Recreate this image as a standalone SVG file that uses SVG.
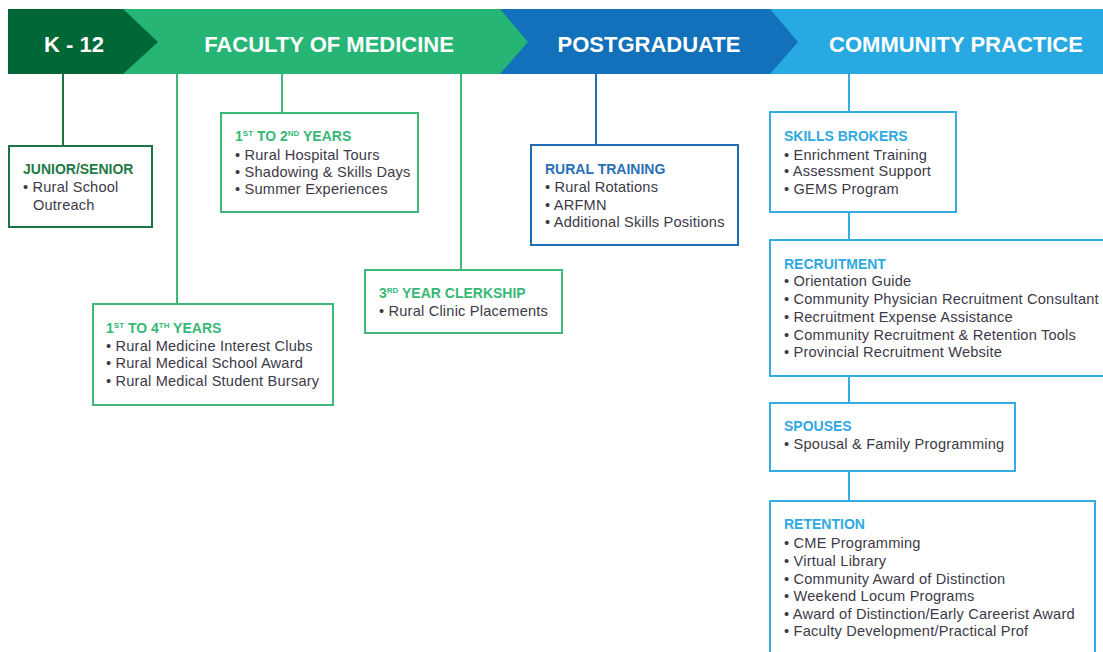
<svg xmlns="http://www.w3.org/2000/svg" width="1103" height="652" viewBox="0 0 1103 652">
<style>
text{font-family:"Liberation Sans",Arial,sans-serif}
.ban{font-size:22px;font-weight:bold;fill:#ffffff;text-anchor:middle}
.t{font-size:14px;font-weight:bold}
.i{font-size:14.6px;letter-spacing:0.2px;fill:#3d3a48}
.sup{font-size:8px}
.box{fill:#ffffff;stroke-width:2}
.dg{stroke:#1b7443}.dgt{fill:#1f7a45}
.g{stroke:#3dba7a}.gt{fill:#37b877}
.b{stroke:#1f6db3}.bt{fill:#2a6fb6}
.lb{stroke:#36ade2}.lbt{fill:#2fa9e1}
.c{fill:none;stroke-width:2}
</style>
<rect width="1103" height="652" fill="#ffffff"/>
<g id="banner">
<rect x="760" y="9" width="343" height="65" fill="#29a9e1"/>
<polygon points="490,9 770,9 798,42 770,74 490,74" fill="#1271ba"/>
<polygon points="115,9 500,9 528,42 500,74 115,74" fill="#26b574"/>
<polygon points="8,9 123,9 158,42 123,74 8,74" fill="#006837"/>
<text class="ban" x="74" y="52">K - 12</text>
<text class="ban" x="329" y="52">FACULTY OF MEDICINE</text>
<text class="ban" x="649" y="52">POSTGRADUATE</text>
<text class="ban" x="956" y="52">COMMUNITY PRACTICE</text>
</g>
<g id="connectors">
<line class="c dg" x1="63" y1="74" x2="63" y2="146"/>
<line class="c g" x1="177" y1="74" x2="177" y2="304"/>
<line class="c g" x1="282" y1="74" x2="282" y2="113"/>
<line class="c g" x1="461" y1="74" x2="461" y2="270"/>
<line class="c b" x1="596" y1="74" x2="596" y2="145"/>
<line class="c lb" x1="849" y1="74" x2="849" y2="112"/>
<line class="c lb" x1="849" y1="212" x2="849" y2="240"/>
<line class="c lb" x1="849" y1="376" x2="849" y2="403"/>
<line class="c lb" x1="849" y1="471" x2="849" y2="501"/>
</g>
<g id="junior-senior">
<rect class="box dg" x="9" y="146" width="143" height="81"/>
<text class="t dgt" x="23" y="174">JUNIOR/SENIOR</text>
<text class="i" x="23" y="192">• Rural School</text>
<text class="i" x="33" y="210">Outreach</text>
</g>
<g id="years-1-2">
<rect class="box g" x="221" y="113" width="197" height="99"/>
<text class="t gt" x="235" y="141">1<tspan class="sup" dy="-5">ST</tspan><tspan dy="5"> TO 2</tspan><tspan class="sup" dy="-5">ND</tspan><tspan dy="5"> YEARS</tspan></text>
<text class="i" x="235" y="160">• Rural Hospital Tours</text>
<text class="i" x="235" y="177">• Shadowing &amp; Skills Days</text>
<text class="i" x="235" y="194">• Summer Experiences</text>
</g>
<g id="years-1-4">
<rect class="box g" x="93" y="304" width="240" height="101"/>
<text class="t gt" x="106" y="333">1<tspan class="sup" dy="-5">ST</tspan><tspan dy="5"> TO 4</tspan><tspan class="sup" dy="-5">TH</tspan><tspan dy="5"> YEARS</tspan></text>
<text class="i" x="106" y="351">• Rural Medicine Interest Clubs</text>
<text class="i" x="106" y="368">• Rural Medical School Award</text>
<text class="i" x="106" y="386">• Rural Medical Student Bursary</text>
</g>
<g id="clerkship">
<rect class="box g" x="365" y="270" width="197" height="63"/>
<text class="t gt" x="379" y="298">3<tspan class="sup" dy="-5">RD</tspan><tspan dy="5"> YEAR CLERKSHIP</tspan></text>
<text class="i" x="379" y="316">• Rural Clinic Placements</text>
</g>
<g id="rural-training">
<rect class="box b" x="531" y="145" width="207" height="100"/>
<text class="t bt" x="545" y="174">RURAL TRAINING</text>
<text class="i" x="545" y="192">• Rural Rotations</text>
<text class="i" x="545" y="210">• ARFMN</text>
<text class="i" x="545" y="227">• Additional Skills Positions</text>
</g>
<g id="skills-brokers">
<rect class="box lb" x="770" y="112" width="186" height="100"/>
<text class="t lbt" x="784" y="141">SKILLS BROKERS</text>
<text class="i" x="784" y="160">• Enrichment Training</text>
<text class="i" x="784" y="176">• Assessment Support</text>
<text class="i" x="784" y="194">• GEMS Program</text>
</g>
<g id="recruitment">
<rect class="box lb" x="770" y="240" width="340" height="136"/>
<text class="t lbt" x="784" y="269">RECRUITMENT</text>
<text class="i" x="784" y="286">• Orientation Guide</text>
<text class="i" x="784" y="304">• Community Physician Recruitment Consultant</text>
<text class="i" x="784" y="322">• Recruitment Expense Assistance</text>
<text class="i" x="784" y="340">• Community Recruitment &amp; Retention Tools</text>
<text class="i" x="784" y="357">• Provincial Recruitment Website</text>
</g>
<g id="spouses">
<rect class="box lb" x="770" y="403" width="245" height="68"/>
<text class="t lbt" x="784" y="431">SPOUSES</text>
<text class="i" x="784" y="449">• Spousal &amp; Family Programming</text>
</g>
<g id="retention">
<rect class="box lb" x="770" y="501" width="325" height="160"/>
<text class="t lbt" x="784" y="529">RETENTION</text>
<text class="i" x="784" y="548">• CME Programming</text>
<text class="i" x="784" y="566">• Virtual Library</text>
<text class="i" x="784" y="584">• Community Award of Distinction</text>
<text class="i" x="784" y="601">• Weekend Locum Programs</text>
<text class="i" x="784" y="619">• Award of Distinction/Early Careerist Award</text>
<text class="i" x="784" y="636">• Faculty Development/Practical Prof</text>
</g>
</svg>
